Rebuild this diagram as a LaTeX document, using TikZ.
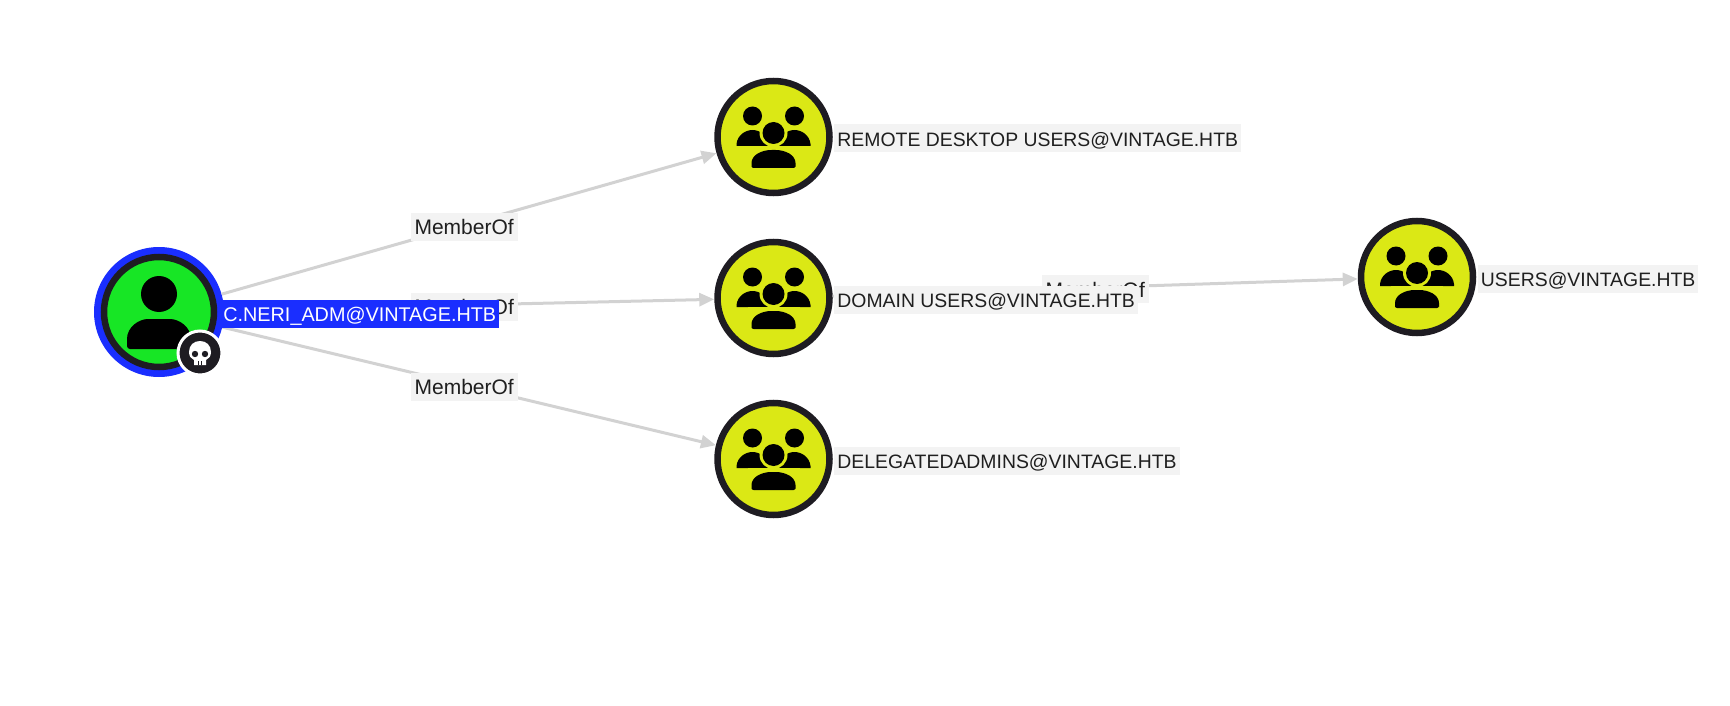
\documentclass[tikz,border=0pt]{standalone}
\usepackage{fontspec}
\setmainfont{Liberation Sans}
\usepackage{tikz}
\usetikzlibrary{arrows.meta, positioning}
\definecolor{RingDark}{HTML}{1E1C22}
\definecolor{GroupYellow}{HTML}{DBE815}
\definecolor{UserGreen}{HTML}{17E625}
\definecolor{OwnedBlue}{HTML}{1A2EFF}
\definecolor{EdgeGrey}{HTML}{D2D2D2}
\definecolor{LabelBack}{HTML}{F3F3F3}
\definecolor{LabelText}{HTML}{1F1F1F}
\tikzset{%
  group_node/.style={%
    circle,%
    inner sep=0pt,%
    minimum size=112pt,%
    line width=6.5pt,%
    draw=RingDark,%
    fill=GroupYellow,%
  },
  user_halo/.style={%
    circle,%
    inner sep=0pt,%
    minimum size=130pt,%
    fill=OwnedBlue,%
  },
  user_node/.style={%
    circle,%
    inner sep=0pt,%
    minimum size=110pt,%
    line width=6.5pt,%
    draw=RingDark,%
    fill=UserGreen,%
  },
  badge/.style={%
    circle,%
    inner sep=0pt,%
    minimum size=44pt,%
    line width=3pt,%
    draw=white,%
    fill=RingDark,%
  },
  name_label/.style={%
    fill=LabelBack,%
    text=LabelText,%
    font={\fontsize{19.4}{24}\selectfont},%
    inner xsep=3pt,%
    inner ysep=4pt,%
    text height=18pt,%
    text depth=2pt,%
    yshift=-1.5pt,%
  },
  owned_label/.style={%
    name_label,%
    font={\fontsize{19.8}{24}\selectfont},%
    fill=OwnedBlue,%
    text=white,%
  },
  edge_label/.style={%
    name_label,%
    font={\fontsize{21}{24}\selectfont},%
    inner xsep=4pt,%
    pos=0.49,%
  },
  signal/.style={%
    color=EdgeGrey,%
    line width=3pt,%
  },
  arrow/.style={-{Triangle[length=15pt, width=13pt]}},
  pics/group_icon/.style={code={%
    \fill (-21,-21) circle (9.5);
    \fill (21,-21) circle (9.5);
    \fill (-37,9) -- (-37,7) .. controls (-36,-2) and (-28,-7) .. (-21,-7) .. controls (-14,-7) and (-6,-2) .. (-5,7) -- (-5,9) -- cycle;
    \fill (37,9) -- (37,7) .. controls (36,-2) and (28,-7) .. (21,-7) .. controls (14,-7) and (6,-2) .. (5,7) -- (5,9) -- cycle;
    \fill[GroupYellow] (0,-4) circle (14);
    \fill (0,-4) circle (11);
    \fill[GroupYellow] (-26,9) rectangle (26,11);
    \fill[rounded corners=2pt] (-22,31) -- (-22,28) .. controls (-22,18) and (-12,13) .. (0,13) .. controls (12,13) and (22,18) .. (22,28) -- (22,31) -- cycle;
  }},
  pics/user_icon/.style={code={%
    \fill (0,-18) circle (18);
    \fill[rounded corners=3pt] (-32,37) -- (-32,30) .. controls (-32,15) and (-20,7) .. (-8,7) -- (8,7) .. controls (20,7) and (32,15) .. (32,30) -- (32,37) -- cycle;
  }},
  pics/skull_icon/.style={code={%
    \fill[white] (-6,12) -- (-6,7) .. controls (-9,6) and (-11,3) .. (-11,-1) .. controls (-11,-8) and (-6,-12) .. (0,-12) .. controls (6,-12) and (11,-8) .. (11,-1) .. controls (11,3) and (9,6) .. (6,7) -- (6,12) -- cycle;
    \fill[RingDark] (-5,1) circle (3.2);
    \fill[RingDark] (5,1) circle (3.2);
    \fill[RingDark] (-2.2,8) rectangle (-1.4,12);
    \fill[RingDark] (1.4,8) rectangle (2.2,12);
  }},
}
\begin{document}
\begin{tikzpicture}[x=1pt, y=-1pt]
  \useasboundingbox (0,0) rectangle (1730,706);

  \node[user_halo] (user) at (159,312) {};
  \node[user_node] (user_disc) at (user) {};
  \node[group_node] (remote) at (773.5,137) {};
  \node[group_node] (domain) at (773.5,298) {};
  \node[group_node] (delegated) at (773.5,459) {};
  \node[group_node] (users) at (1417,277) {};

  \pic at (user) {user_icon};
  \pic at (remote) {group_icon};
  \pic at (domain) {group_icon};
  \pic at (delegated) {group_icon};
  \pic at (users) {group_icon};

  \draw[signal, arrow] (user) -- node[edge_label] (m_remote) {MemberOf} (remote);
  \draw[signal, arrow] (user) -- node[edge_label] (m_domain) {MemberOf} (domain);
  \draw[signal, arrow] (user) -- node[edge_label] (m_delegated) {MemberOf} (delegated);
  \draw[signal, arrow] (domain) -- node[edge_label, pos=0.5] (m_users) {MemberOf} (users);

  \node[owned_label, right = -4pt of user] (user_name) {C.NERI\_ADM@VINTAGE.HTB};
  \node[name_label, right = 1.5pt of remote] (remote_name) {REMOTE DESKTOP USERS@VINTAGE.HTB};
  \node[name_label, right = 1.5pt of domain] (domain_name) {DOMAIN USERS@VINTAGE.HTB};
  \node[name_label, right = 1.5pt of delegated] (delegated_name) {DELEGATEDADMINS@VINTAGE.HTB};
  \node[name_label, right = 1.5pt of users] (users_name) {USERS@VINTAGE.HTB};

  \node[badge] (skull) at (200,353) {};
  \pic at (skull) {skull_icon};

\end{tikzpicture}
\end{document}
